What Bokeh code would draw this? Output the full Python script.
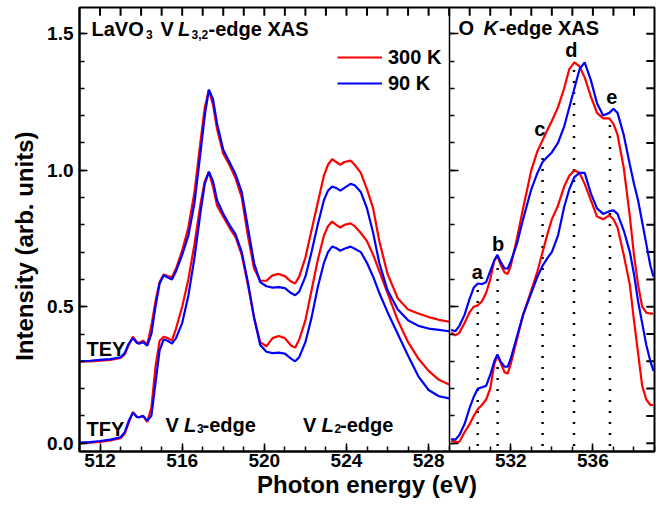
import math
from bokeh.plotting import figure
from bokeh.models import (LinearAxis, SingleIntervalTicker, Label, Legend, LegendItem,
                          Range1d, CustomJSTickFormatter, PrintfTickFormatter)
from bokeh.embed import file_html
from bokeh.resources import INLINE

FONT = "Liberation Sans"

# ---------------- V L-edge panel (TEY upper, TFY lower) ----------------
energy_L = [511.0, 511.5, 512.0, 512.5, 513.0, 513.2, 513.4, 513.6, 513.8, 513.9, 514.1, 514.3,
            514.5, 514.7, 514.9, 515.1, 515.3, 515.5, 515.7, 516.0, 516.3, 516.6, 516.9, 517.1,
            517.3, 517.5, 517.7, 518.0, 518.3, 518.6, 518.9, 519.2, 519.5, 519.8, 520.1, 520.4,
            520.7, 521.0, 521.3, 521.5, 521.7, 522.0, 522.3, 522.6, 522.9, 523.1, 523.3, 523.5,
            523.7, 523.9, 524.2, 524.4, 524.7, 525.0, 525.3, 525.6, 526.0, 526.5, 527.0, 527.5,
            528.0, 528.5, 529.0]
tey_300K = [0.300, 0.300, 0.302, 0.305, 0.312, 0.325, 0.360, 0.390, 0.370, 0.368, 0.375, 0.362,
            0.430, 0.520, 0.590, 0.618, 0.612, 0.608, 0.640, 0.706, 0.790, 0.920, 1.110, 1.230,
            1.294, 1.240, 1.150, 1.060, 1.020, 0.970, 0.900, 0.760, 0.640, 0.595, 0.595, 0.615,
            0.620, 0.612, 0.592, 0.585, 0.610, 0.680, 0.780, 0.880, 0.980, 1.020, 1.040, 1.030,
            1.020, 1.030, 1.035, 1.020, 0.990, 0.930, 0.860, 0.740, 0.620, 0.530, 0.490, 0.475,
            0.462, 0.452, 0.445]
tey_90K = [0.300, 0.302, 0.305, 0.308, 0.315, 0.330, 0.365, 0.385, 0.367, 0.364, 0.370, 0.357,
           0.400, 0.500, 0.585, 0.615, 0.607, 0.600, 0.630, 0.690, 0.760, 0.880, 1.070, 1.200,
           1.295, 1.260, 1.170, 1.075, 1.030, 0.985, 0.920, 0.790, 0.660, 0.590, 0.575, 0.570,
           0.572, 0.568, 0.550, 0.542, 0.555, 0.610, 0.700, 0.800, 0.890, 0.925, 0.940, 0.935,
           0.925, 0.935, 0.950, 0.945, 0.920, 0.860, 0.770, 0.660, 0.560, 0.490, 0.450, 0.430,
           0.420, 0.415, 0.410]
tfy_300K = [0.000, 0.002, 0.005, 0.010, 0.018, 0.035, 0.075, 0.114, 0.097, 0.095, 0.099, 0.078,
            0.130, 0.280, 0.375, 0.390, 0.385, 0.376, 0.420, 0.500, 0.600, 0.730, 0.880, 0.960,
            0.993, 0.940, 0.870, 0.830, 0.790, 0.755, 0.690, 0.580, 0.460, 0.370, 0.355, 0.385,
            0.393, 0.385, 0.358, 0.350, 0.380, 0.450, 0.560, 0.670, 0.760, 0.795, 0.812, 0.800,
            0.790, 0.800, 0.805, 0.795, 0.770, 0.740, 0.690, 0.630, 0.550, 0.450, 0.370, 0.310,
            0.265, 0.232, 0.215]
tfy_90K = [0.002, 0.004, 0.008, 0.013, 0.022, 0.040, 0.082, 0.112, 0.095, 0.095, 0.100, 0.082,
           0.100, 0.220, 0.340, 0.380, 0.375, 0.365, 0.385, 0.440, 0.540, 0.680, 0.850, 0.950,
           0.995, 0.960, 0.890, 0.840, 0.800, 0.765, 0.700, 0.590, 0.460, 0.360, 0.335, 0.330,
           0.332, 0.328, 0.310, 0.300, 0.315, 0.370, 0.460, 0.570, 0.660, 0.700, 0.720, 0.715,
           0.705, 0.712, 0.720, 0.712, 0.700, 0.660, 0.610, 0.550, 0.480, 0.400, 0.320, 0.245,
           0.195, 0.172, 0.164]

# ---------------- O K-edge panel (upper and lower pairs) ----------------
energy_K = [529.1, 529.3, 529.5, 529.75, 530.0, 530.2, 530.4, 530.6, 530.8, 531.0, 531.2, 531.35,
            531.5, 531.7, 531.85, 532.0, 532.3, 532.6, 533.0, 533.3, 533.55, 533.8, 534.0, 534.3,
            534.6, 534.85, 535.1, 535.35, 535.6, 535.9, 536.2, 536.5, 536.8, 537.0, 537.2, 537.5,
            537.8, 538.0, 538.2, 538.4, 538.6, 538.8, 538.95]
ok_upper_300K = [0.405, 0.395, 0.405, 0.440, 0.480, 0.500, 0.505, 0.520, 0.550, 0.600, 0.670, 0.685,
                 0.655, 0.625, 0.620, 0.650, 0.750, 0.860, 1.000, 1.070, 1.110, 1.150, 1.180, 1.230,
                 1.300, 1.370, 1.395, 1.380, 1.340, 1.270, 1.210, 1.190, 1.190, 1.170, 1.130, 1.010,
                 0.830, 0.690, 0.580, 0.500, 0.478, 0.475, 0.475]
ok_upper_90K = [0.415, 0.410, 0.430, 0.470, 0.530, 0.570, 0.585, 0.583, 0.590, 0.630, 0.670, 0.690,
                0.665, 0.640, 0.640, 0.665, 0.730, 0.820, 0.930, 0.990, 1.030, 1.050, 1.065, 1.100,
                1.160, 1.230, 1.300, 1.370, 1.395, 1.330, 1.245, 1.200, 1.210, 1.225, 1.210, 1.130,
                1.020, 0.950, 0.890, 0.810, 0.730, 0.650, 0.610]
ok_lower_300K = [0.010, 0.005, 0.005, 0.040, 0.070, 0.100, 0.125, 0.140, 0.160, 0.200, 0.290, 0.320,
                 0.295, 0.260, 0.255, 0.290, 0.380, 0.470, 0.560, 0.630, 0.700, 0.770, 0.820, 0.870,
                 0.940, 0.980, 1.000, 0.990, 0.950, 0.890, 0.830, 0.820, 0.835, 0.820, 0.790, 0.690,
                 0.580, 0.450, 0.330, 0.210, 0.160, 0.140, 0.140]
ok_lower_90K = [0.015, 0.013, 0.030, 0.070, 0.130, 0.170, 0.200, 0.205, 0.210, 0.250, 0.300, 0.325,
                0.300, 0.280, 0.280, 0.310, 0.390, 0.470, 0.550, 0.610, 0.650, 0.680, 0.700, 0.760,
                0.865, 0.930, 0.975, 0.990, 0.990, 0.915, 0.860, 0.840, 0.850, 0.853, 0.840, 0.780,
                0.700, 0.620, 0.520, 0.440, 0.360, 0.300, 0.265]

# feature markers a-e
feature_labels = ["a", "b", "c", "d", "e"]
feature_energy = [530.39, 531.36, 533.55, 535.08, 536.83]
feature_top = [0.57, 0.66, 1.10, 1.39, 1.18]
feature_bottom = [-0.01, -0.01, -0.01, -0.01, -0.01]

# tick positions for the top and right frame edges
top_tick_energies = list(range(512, 539))
right_tick_values = [i / 10 for i in range(0, 16)]

RED = "#ff0000"
BLUE = "#0000ff"
NB = "\u00a0"
X0, X1, Y0, Y1 = 511, 539, -0.0304, 1.596

p = figure(width=664, height=507, x_range=Range1d(X0, X1), y_range=Range1d(Y0, Y1),
           output_backend="svg", toolbar_location=None, title=None,
           min_border_left=79, min_border_right=10, min_border_top=7, min_border_bottom=56,
           background_fill_color="white", border_fill_color="white")
p.xgrid.visible = False
p.ygrid.visible = False
p.outline_line_color = "black"
p.outline_line_width = 2

empty = CustomJSTickFormatter(code="return ''")

# bottom axis
xa = p.xaxis[0]
xa.ticker = SingleIntervalTicker(interval=4, num_minor_ticks=4)
xa.major_tick_in = 8
xa.major_tick_out = 0
xa.minor_tick_in = 5
xa.minor_tick_out = 0
xa.axis_line_width = 2
xa.major_tick_line_width = 1.5
xa.minor_tick_line_width = 1.5
xa.major_label_standoff = 2
xa.major_label_text_font = FONT
xa.major_label_text_font_style = "bold"
xa.major_label_text_font_size = "19px"
xa.major_label_text_color = "black"
xa.axis_label = "Photon energy (eV)"
xa.axis_label_standoff = 1
xa.axis_label_text_font = FONT
xa.axis_label_text_font_style = "bold"
xa.axis_label_text_font_size = "24px"
xa.axis_label_text_color = "black"

# left axis
ya = p.yaxis[0]
ya.ticker = SingleIntervalTicker(interval=0.5, num_minor_ticks=5)
ya.formatter = PrintfTickFormatter(format="%.1f")
ya.major_tick_in = 8
ya.major_tick_out = 0
ya.minor_tick_in = 5
ya.minor_tick_out = 0
ya.axis_line_width = 2
ya.major_tick_line_width = 1.5
ya.minor_tick_line_width = 1.5
ya.major_label_standoff = 6
ya.major_label_text_font = FONT
ya.major_label_text_font_style = "bold"
ya.major_label_text_font_size = "19px"
ya.major_label_text_color = "black"
ya.axis_label = "Intensity (arb. units)" + NB * 5
ya.axis_label_standoff = 6
ya.axis_label_text_font = FONT
ya.axis_label_text_font_style = "bold"
ya.axis_label_text_font_size = "24px"
ya.axis_label_text_color = "black"

# panel divider with ticks pointing into the O K-edge panel
divider = LinearAxis(fixed_location=529, ticker=SingleIntervalTicker(interval=0.5, num_minor_ticks=5),
                     formatter=empty, major_tick_in=9, major_tick_out=0, minor_tick_in=5, minor_tick_out=0,
                     axis_line_width=1.5, major_tick_line_width=1.5, minor_tick_line_width=1.5)
p.add_layout(divider, "left")

# inward ticks along the top and right frame edges (rays of fixed screen length)
p.ray(x=top_tick_energies, y=[Y1 - 0.001] * len(top_tick_energies), length=8,
      length_units="screen", angle=-math.pi / 2, line_color="black", line_width=2)
p.ray(x=[X1 - 0.01] * len(right_tick_values), y=right_tick_values, length=8,
      length_units="screen", angle=math.pi, line_color="black", line_width=2)

# dotted feature lines
p.segment(x0=feature_energy, y0=feature_bottom, x1=feature_energy, y1=feature_top,
          line_color="black", line_width=2.5, line_dash="2 9")

LW = 2.2
r300 = p.line(energy_L, tey_300K, line_color=RED, line_width=LW)
p.line(energy_L, tfy_300K, line_color=RED, line_width=LW)
p.line(energy_K, ok_upper_300K, line_color=RED, line_width=LW)
p.line(energy_K, ok_lower_300K, line_color=RED, line_width=LW)
r90 = p.line(energy_L, tey_90K, line_color=BLUE, line_width=LW)
p.line(energy_L, tfy_90K, line_color=BLUE, line_width=LW)
p.line(energy_K, ok_upper_90K, line_color=BLUE, line_width=LW)
p.line(energy_K, ok_lower_90K, line_color=BLUE, line_width=LW)

legend = Legend(items=[LegendItem(label="300 K", renderers=[r300]),
                       LegendItem(label="90 K", renderers=[r90])],
                location=(258, 355), padding=0, margin=0, spacing=0,
                glyph_width=45, glyph_height=26, label_height=26, label_standoff=6,
                label_text_font=FONT, label_text_font_style="bold", label_text_font_size="20px",
                label_text_color="black", border_line_alpha=0, background_fill_alpha=0)
p.add_layout(legend)

DY = 0.025  # baseline correction


def txt(x, y, s, size="20px", style="bold", align="left"):
    p.add_layout(Label(x=x, y=y + DY, text=s, text_font=FONT, text_font_style=style,
                       text_font_size=size, text_align=align, text_baseline="alphabetic",
                       text_color="black"))


# panel titles
txt(511.584, 1.4934, "LaVO")
txt(514.238, 1.4714, "3", size="12px")
txt(514.944, 1.4934, "V")
txt(515.796, 1.4934, "L", style="bold italic")
txt(516.454, 1.4714, "3,2", size="12px")
txt(517.282, 1.4934, "-edge XAS")

txt(529.455, 1.4960, "O")
txt(530.673, 1.4960, "K", style="bold italic")
txt(531.428, 1.4960, "-edge XAS")

# curve labels
txt(511.341, 0.321, "TEY")
txt(511.341, 0.028, "TFY")

txt(515.188, 0.0403, "V")
txt(516.089, 0.0403, "L", style="bold italic")
txt(516.722, 0.028, "3", size="12px")
txt(516.990, 0.0403, "-edge")

txt(521.880, 0.0403, "V")
txt(522.780, 0.0403, "L", style="bold italic")
txt(523.420, 0.028, "2", size="12px")
txt(523.685, 0.0403, "-edge")

label_x = [530.37, 531.38, 533.41, 534.95, 536.92]
label_y = [0.602, 0.706, 1.127, 1.414, 1.243]
for s, x, y in zip(feature_labels, label_x, label_y):
    txt(x, y, s, align="center")

open("out.html", "w").write(file_html(p, INLINE))
